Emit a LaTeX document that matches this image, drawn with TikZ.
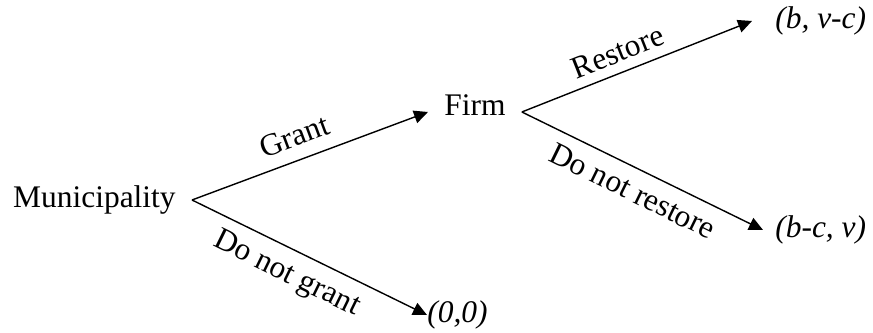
\documentclass[tikz,border=0pt]{standalone}
\usepackage{fontspec}
\setmainfont{Liberation Serif}
\usetikzlibrary{arrows.meta}
\newcommand\treesize{\fontsize{17.9}{21}\selectfont}
\tikzset{
  player/.style={font=\treesize, inner xsep=0.32cm, inner ysep=2pt},
  payoff/.style={font=\treesize\itshape, inner ysep=2pt},
  move/.style={-{Triangle[length=0.28cm, width=0.26cm]}, line width=0.8pt},
  lbl/.style={font=\treesize, sloped}
}

\begin{document}
\begin{tikzpicture}[x=0.02cm, y=-0.02cm]
  \useasboundingbox (0,0) rectangle (873,333);
  \node[player, anchor=east] (muni) at (192,200) {Municipality};
  \node[player, anchor=west, text height=0.7em, text depth=0.3em] (firm) at (428,112) {Firm};
  \node[payoff, anchor=west, inner xsep=0.46cm] (restore) at (752,21) {(b, v-c)};
  \node[payoff, anchor=west, inner xsep=0.24cm] (norestore) at (763,230) {(b-c, v)};
  \node[payoff, anchor=west, inner xsep=0pt] (nogrant) at (427,315) {(0,0)};
  \draw[move] (muni.east) -- node[lbl, above=4pt, pos=0.47] {Grant} (firm.west);
  \draw[move] (muni.east) -- node[lbl, below=3pt, pos=0.45] {Do not grant} (nogrant.west);
  \draw[move] (firm.east) -- node[lbl, above=2pt, pos=0.45] {Restore} (restore.west);
  \draw[move] (firm.east) -- node[lbl, below=3pt, pos=0.5] {Do not restore} (norestore.west);
\end{tikzpicture}
\end{document}
